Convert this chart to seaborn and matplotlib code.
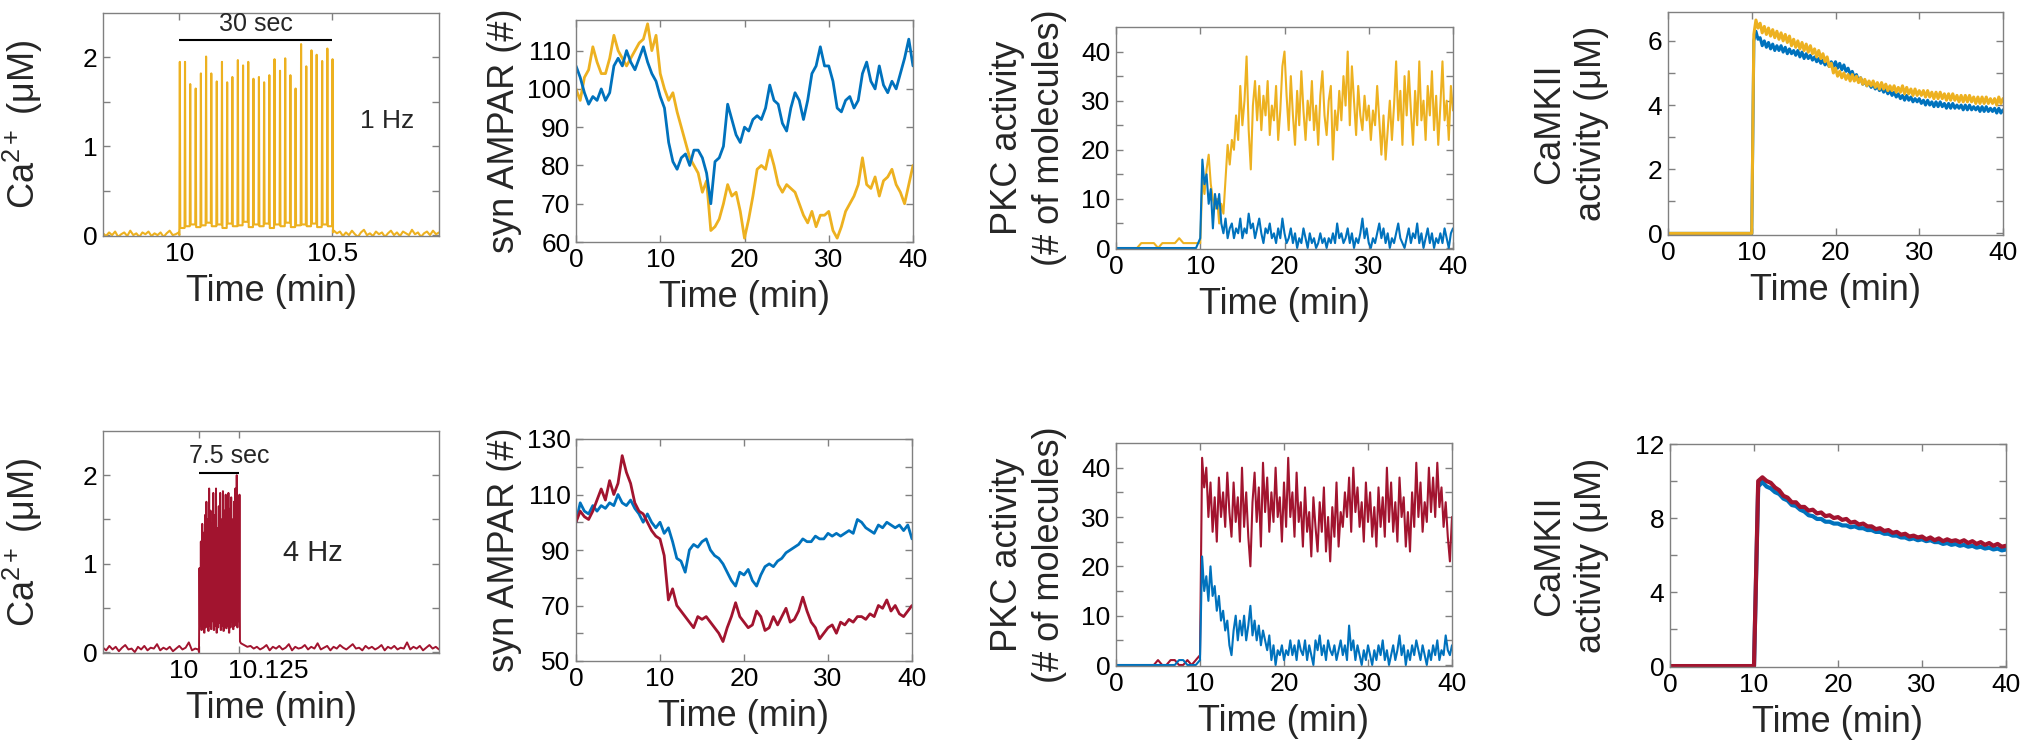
import numpy as np
import matplotlib
matplotlib.use("Agg")
import matplotlib.pyplot as plt
import matplotlib.transforms as mtransforms
import seaborn as sns

W, H = 2027, 750
ORANGE = "#EDB120"
BLUE = "#0072BD"
RED = "#A2142F"
GREY = "#808080"

# ---------------- Ca2+ traces (spike trains) ----------------
# 1 Hz train, 30 pulses between 10 and 10.5 min
CA1_TIMES = [10.000, 10.017, 10.034, 10.052, 10.069, 10.086, 10.103, 10.121, 10.138, 10.155,
             10.172, 10.190, 10.207, 10.224, 10.241, 10.259, 10.276, 10.293, 10.310, 10.328,
             10.345, 10.362, 10.379, 10.397, 10.414, 10.431, 10.448, 10.466, 10.483, 10.500]
CA1_PEAKS = [1.95, 1.95, 1.70, 1.65, 1.82, 2.01, 1.82, 1.73, 1.95, 1.72,
             1.78, 1.97, 1.91, 1.95, 1.76, 1.78, 1.72, 1.80, 1.98, 1.85,
             1.99, 1.80, 1.65, 2.15, 1.90, 2.08, 2.03, 1.96, 2.10, 1.98]
CA1_TROUGHS = [0.0, 0.08, 0.10, 0.12, 0.09, 0.11, 0.14, 0.10, 0.12, 0.08, 0.13,
               0.10, 0.11, 0.15, 0.09, 0.12, 0.10, 0.13, 0.08, 0.12, 0.10,
               0.14, 0.09, 0.11, 0.12, 0.10, 0.13, 0.09, 0.12, 0.10, 0.03]
CA1_PRE = [0.02, -0.01, 0.03, 0.0, 0.04, -0.02, 0.01, 0.03, -0.01, 0.05, 0.0, 0.02, -0.02,
           0.03, 0.01, 0.04, -0.01, 0.02, 0.0, 0.03, -0.02, 0.02, 0.05, 0.0, 0.01, 0.03]
CA1_POST = [0.05, 0.02, 0.04, -0.01, 0.03, 0.0, 0.05, 0.01, -0.02, 0.03, 0.06, 0.0,
            0.02, -0.01, 0.04, 0.01, 0.03, -0.02, 0.02, 0.05, 0.0, 0.03, -0.01, 0.04,
            0.02, 0.0, 0.06, 0.01, 0.03, -0.02, 0.02, 0.04, 0.0, 0.05, 0.01, 0.03]

# 4 Hz train, 30 pulses between 10 and 10.125 min
CA4_TIMES = [10.0000, 10.0043, 10.0086, 10.0129, 10.0172, 10.0216, 10.0259, 10.0302, 10.0345, 10.0388,
             10.0431, 10.0474, 10.0517, 10.0560, 10.0603, 10.0647, 10.0690, 10.0733, 10.0776, 10.0819,
             10.0862, 10.0905, 10.0948, 10.0991, 10.1034, 10.1078, 10.1121, 10.1164, 10.1207, 10.1250]
CA4_PEAKS = [0.95, 1.25, 1.45, 1.35, 1.55, 1.70, 1.50, 1.85, 1.60, 1.45,
             1.80, 1.55, 1.85, 1.40, 1.65, 1.80, 1.50, 1.82, 1.60, 1.78,
             1.45, 1.80, 1.62, 1.75, 1.50, 1.70, 1.85, 2.00, 1.60, 1.78]
CA4_TROUGHS = [0.0, 0.30, 0.25, 0.30, 0.22, 0.28, 0.32, 0.24, 0.30, 0.26, 0.35,
               0.25, 0.30, 0.22, 0.28, 0.33, 0.25, 0.30, 0.24, 0.32, 0.27,
               0.30, 0.22, 0.28, 0.34, 0.26, 0.30, 0.33, 0.28, 0.35, 0.12]
CA4_PRE = [0.05, 0.02, 0.07, 0.03, 0.06, 0.01, 0.05, 0.08, 0.03, 0.04, 0.0, 0.06, 0.03,
           0.07, 0.02, 0.05, 0.04, 0.09, 0.02, 0.05, 0.03, 0.06, 0.01, 0.04, 0.07, 0.03,
           0.05, 0.11, 0.02, 0.04, 0.03]
CA4_POST = [0.10, 0.08, 0.06, 0.07, 0.04, 0.06, 0.03, 0.05, 0.08, 0.02, 0.06, 0.04, 0.07,
            0.03, 0.05, 0.09, 0.02, 0.06, 0.04, 0.05, 0.08, 0.03, 0.06, 0.04, 0.10, 0.03,
            0.05, 0.07, 0.02, 0.06, 0.04, 0.08, 0.05, 0.03, 0.06, 0.09, 0.04, 0.05, 0.02,
            0.07, 0.04, 0.06, 0.03, 0.05, 0.08, 0.02, 0.06, 0.04, 0.07, 0.03, 0.05, 0.04,
            0.11, 0.03, 0.06, 0.04, 0.07, 0.02, 0.05, 0.08, 0.04, 0.06, 0.03]

# ---------------- syn AMPAR (#), sampled every 0.5 min, 0-40 min ----------------
AMPAR_1HZ = [100, 97, 103, 105, 111, 107, 104, 104, 108, 114, 110, 108, 106, 108, 110, 112,
             113, 117, 110, 114, 104, 100, 97, 99, 94, 90, 86, 82, 80, 78, 73, 76,
             63, 64, 66, 70, 75, 72, 73, 68, 61, 66, 72, 79, 80, 79, 84, 80,
             75, 73, 75, 74, 73, 70, 67, 65, 68, 64, 67, 67, 68, 63, 61, 64,
             68, 70, 72, 75, 82, 75, 74, 77, 72, 76, 77, 79, 75, 73, 70, 75, 80]
AMPAR_1HZ_CTRL = [106, 103, 99, 96, 98, 97, 100, 97, 99, 106, 108, 106, 110, 107, 105, 108,
                  111, 107, 104, 102, 98, 95, 86, 81, 79, 82, 83, 80, 84, 84, 82, 78,
                  70, 81, 82, 85, 96, 92, 88, 86, 90, 89, 92, 93, 92, 95, 101, 97,
                  96, 91, 89, 95, 99, 97, 92, 97, 104, 106, 111, 106, 106, 102, 95, 94,
                  97, 98, 95, 97, 104, 107, 102, 100, 106, 101, 99, 102, 100, 104, 108, 113, 106]
AMPAR_4HZ = [100, 104, 102, 101, 104, 108, 112, 108, 115, 110, 114, 124, 118, 114, 107, 104,
             103, 100, 97, 95, 94, 88, 72, 76, 70, 68, 66, 64, 62, 66, 65, 66,
             64, 62, 60, 57, 62, 66, 71, 66, 64, 62, 63, 68, 66, 61, 62, 66,
             63, 66, 69, 64, 65, 68, 73, 68, 64, 62, 58, 60, 62, 63, 60, 64,
             63, 65, 64, 66, 66, 65, 67, 66, 70, 69, 72, 68, 70, 67, 66, 68, 70]
AMPAR_4HZ_CTRL = [100, 107, 104, 103, 106, 104, 106, 105, 107, 106, 110, 107, 106, 108, 105, 103,
                  100, 103, 100, 98, 100, 96, 98, 93, 87, 86, 82, 90, 92, 91, 93, 94,
                  90, 88, 87, 85, 82, 79, 77, 82, 81, 83, 79, 77, 81, 84, 85, 84,
                  86, 87, 89, 90, 91, 92, 94, 93, 93, 95, 94, 94, 96, 95, 96, 95,
                  96, 97, 96, 101, 100, 98, 97, 96, 99, 98, 100, 99, 98, 99, 97, 99, 94]

# ---------------- PKC activity (# of molecules) ----------------
# before stimulation: every 0.5 min, 0-9.5 min
PKC_1HZ_PRE = [0, 0, 0, 0, 0, 0, 1, 1, 1, 1, 0, 1, 1, 1, 1, 2, 1, 1, 1, 1]
PKC_1HZ_CTRL_PRE = [0] * 20
PKC_4HZ_PRE = [0, 0, 0, 0, 0, 0, 0, 0, 0, 0, 1, 0, 0, 1, 1, 0, 0, 1, 0, 1]
PKC_4HZ_CTRL_PRE = [0, 0, 0, 0, 0, 0, 0, 0, 0, 0, 0, 0, 0, 0, 0, 1, 1, 0, 0, 0]
# after stimulation onset: every 0.25 min, 10-40 min
PKC_1HZ = [1, 14, 11, 16, 19, 13, 10, 8,
           10, 5, 9, 7, 14, 21, 17, 22,
           20, 27, 22, 33, 25, 30, 39, 24,
           16, 29, 34, 26, 33, 24, 31, 27,
           34, 23, 29, 26, 33, 22, 28, 37,
           40, 31, 24, 35, 27, 21, 32, 25,
           36, 28, 22, 30, 26, 34, 24, 29,
           21, 31, 36, 27, 23, 30, 33, 18,
           28, 24, 32, 26, 35, 29, 40, 25,
           37, 30, 23, 33, 27, 24, 31, 26,
           29, 22, 28, 25, 33, 26, 19, 27,
           18, 24, 30, 22, 29, 38, 26, 32,
           21, 35, 27, 36, 28, 21, 32, 25,
           38, 26, 30, 22, 33, 27, 36, 24,
           31, 21, 29, 38, 26, 30, 22, 33,
           28]
PKC_1HZ_CTRL = [2, 18, 13, 15, 9, 12, 4, 11,
                8, 11, 5, 3, 6, 2, 4, 5,
                2, 4, 3, 6, 2, 4, 3, 7,
                4, 5, 2, 4, 6, 3, 1, 4,
                3, 5, 2, 3, 1, 4, 2, 6,
                3, 1, 2, 4, 1, 3, 0, 2,
                1, 4, 2, 0, 3, 1, 2, 0,
                1, 3, 1, 2, 0, 2, 1, 3,
                1, 5, 2, 3, 1, 2, 4, 1,
                3, 0, 2, 1, 3, 6, 2, 4,
                1, 0, 2, 1, 3, 5, 2, 4,
                1, 3, 0, 2, 1, 3, 5, 2,
                1, 0, 2, 4, 1, 3, 2, 5,
                1, 3, 0, 2, 4, 1, 3, 0,
                2, 1, 3, 1, 4, 2, 0, 3,
                4]
PKC_4HZ = [2, 42, 36, 40, 30, 37, 27, 34,
           25, 38, 30, 35, 28, 39, 31, 26,
           37, 29, 34, 25, 40, 28, 35, 26,
           20, 33, 39, 29, 36, 24, 41, 31,
           38, 27, 35, 29, 40, 30, 34, 25,
           37, 28, 42, 30, 35, 26, 39, 29,
           33, 24, 36, 27, 31, 22, 34, 28,
           23, 33, 27, 36, 23, 30, 21, 32,
           26, 37, 24, 31, 28, 35, 30, 38,
           27, 40, 31, 36, 28, 33, 25, 37,
           29, 35, 26, 32, 24, 36, 28, 34,
           26, 40, 29, 37, 27, 33, 25, 38,
           30, 34, 24, 31, 23, 35, 28, 41,
           30, 37, 27, 33, 29, 40, 31, 38,
           30, 41, 32, 36, 28, 33, 26, 21,
           30]
PKC_4HZ_CTRL = [1, 22, 15, 18, 13, 20, 14, 16,
                11, 14, 9, 11, 7, 9, 4, 2,
                7, 10, 5, 9, 6, 10, 5, 8,
                12, 6, 9, 5, 8, 4, 7, 5,
                3, 6, 1, 4, 0, 3, 2, 4,
                1, 3, 2, 5, 2, 4, 1, 5,
                3, 2, 5, 1, 4, 2, 0, 5,
                3, 6, 2, 4, 1, 5, 3, 2,
                4, 1, 3, 5, 2, 4, 1, 8,
                3, 5, 1, 4, 2, 0, 3, 1,
                4, 2, 0, 3, 1, 4, 2, 5,
                1, 3, 0, 2, 4, 1, 3, 6,
                2, 4, 0, 3, 1, 4, 2, 5,
                3, 1, 4, 2, 0, 3, 1, 4,
                2, 5, 1, 3, 2, 6, 3, 2,
                4]

# ---------------- CaMKII activity (uM) ----------------
CAMKII_PRE = [0.0, 0.0]  # 0 and 9.9 min
# 1 Hz panel: every 0.25 min, 10-40 min
CAMKII_1HZ = [0.0, 6.2, 6.65, 6.4, 6.55, 6.25, 6.45, 6.2,
              6.4, 6.15, 6.35, 6.1, 6.3, 6.05, 6.25, 6.0,
              6.2, 5.95, 6.15, 5.85, 6.05, 5.8, 6.0, 5.75,
              5.95, 5.7, 5.9, 5.65, 5.85, 5.6, 5.75, 5.5,
              5.7, 5.45, 5.6, 5.35, 5.5, 5.2, 5.3, 5.0,
              5.15, 4.9, 5.05, 4.85, 5.0, 4.8, 4.95, 4.75,
              4.95, 4.75, 4.9, 4.7, 4.85, 4.65, 4.8, 4.6,
              4.75, 4.6, 4.75, 4.55, 4.7, 4.5, 4.7, 4.5,
              4.65, 4.45, 4.6, 4.45, 4.6, 4.4, 4.55, 4.4,
              4.6, 4.35, 4.55, 4.35, 4.5, 4.3, 4.5, 4.3,
              4.45, 4.3, 4.45, 4.25, 4.45, 4.25, 4.4, 4.2,
              4.4, 4.2, 4.4, 4.2, 4.35, 4.15, 4.35, 4.15,
              4.35, 4.15, 4.3, 4.1, 4.3, 4.1, 4.3, 4.1,
              4.3, 4.1, 4.25, 4.05, 4.25, 4.05, 4.25, 4.05,
              4.25, 4.05, 4.2, 4.05, 4.2, 4.0, 4.25, 4.05,
              4.2]
CAMKII_1HZ_CTRL = [0.0, 6.0, 6.3, 6.05, 6.1, 5.85, 6.0, 5.8,
                   5.95, 5.75, 5.9, 5.7, 5.85, 5.7, 5.85, 5.65,
                   5.8, 5.6, 5.75, 5.6, 5.7, 5.55, 5.7, 5.5,
                   5.65, 5.45, 5.6, 5.45, 5.55, 5.4, 5.5, 5.35,
                   5.45, 5.3, 5.4, 5.25, 5.35, 5.2, 5.35, 5.2,
                   5.35, 5.15, 5.3, 5.1, 5.25, 5.05, 5.15, 4.95,
                   5.05, 4.85, 4.95, 4.75, 4.85, 4.65, 4.75, 4.6,
                   4.7, 4.55, 4.65, 4.5, 4.6, 4.45, 4.55, 4.4,
                   4.5, 4.35, 4.45, 4.3, 4.4, 4.25, 4.35, 4.2,
                   4.3, 4.15, 4.3, 4.15, 4.25, 4.1, 4.2, 4.1,
                   4.2, 4.05, 4.15, 4.0, 4.15, 4.0, 4.1, 3.95,
                   4.1, 3.95, 4.1, 3.95, 4.05, 3.9, 4.05, 3.9,
                   4.05, 3.9, 4.0, 3.9, 4.0, 3.85, 4.0, 3.85,
                   4.0, 3.85, 3.95, 3.85, 3.95, 3.8, 3.95, 3.8,
                   3.95, 3.8, 3.9, 3.8, 3.9, 3.75, 3.9, 3.75,
                   3.85]
# 4 Hz panel: every 0.5 min, 10-40 min
CAMKII_4HZ = [0.0, 10.0, 10.2, 10.0, 9.9, 9.65, 9.5, 9.2, 9.1, 8.85, 8.85, 8.6, 8.6, 8.4,
              8.45, 8.25, 8.3, 8.1, 8.15, 8.0, 8.05, 7.9, 7.95, 7.75, 7.8, 7.65, 7.7, 7.55,
              7.55, 7.4, 7.45, 7.3, 7.35, 7.2, 7.25, 7.1, 7.15, 7.0, 7.05, 6.95, 7.0, 6.85,
              6.95, 6.8, 6.9, 6.75, 6.85, 6.75, 6.8, 6.7, 6.8, 6.65, 6.75, 6.6, 6.7, 6.55,
              6.65, 6.5, 6.6, 6.45, 6.5]
CAMKII_4HZ_CTRL = [0.0, 9.7, 9.95, 9.7, 9.6, 9.4, 9.3, 9.05, 8.95, 8.7, 8.65, 8.45, 8.35, 8.15,
                   8.1, 7.95, 7.95, 7.8, 7.8, 7.7, 7.7, 7.6, 7.6, 7.5, 7.55, 7.45, 7.45, 7.35,
                   7.35, 7.25, 7.25, 7.15, 7.15, 7.05, 7.05, 6.95, 6.95, 6.85, 6.9, 6.8, 6.85,
                   6.75, 6.8, 6.7, 6.7, 6.6, 6.65, 6.55, 6.6, 6.5, 6.55, 6.45, 6.5, 6.4, 6.45,
                   6.35, 6.4, 6.3, 6.35, 6.25, 6.3]

STIM_1HZ = (10.0, 10.5)
STIM_4HZ = (10.0, 10.125)

sns.set_style("ticks")
plt.rcParams["font.family"] = ["Liberation Sans", "DejaVu Sans"]
plt.rcParams["mathtext.fontset"] = "custom"
plt.rcParams["mathtext.rm"] = "Liberation Sans"
plt.rcParams["mathtext.it"] = "Liberation Sans:italic"

fig = plt.figure(figsize=(W / 100, H / 100), dpi=100)


def add_panel(left, top, width, height):
    return fig.add_axes([left / W, 1 - (top + height) / H, width / W, height / H])


def spike_trace(pre, pre_span, times, peaks, troughs, post, post_span, rise, fall):
    x = list(np.linspace(pre_span[0], pre_span[1], len(pre)))
    y = list(pre)
    for i, t in enumerate(times):
        x += [t, t + rise, t + fall]
        y += [troughs[i], peaks[i], troughs[i + 1]]
    x += list(np.linspace(post_span[0], post_span[1], len(post)))
    y += list(post)
    return np.array(x), np.array(y)


def line(ax, x, y, color, lw):
    sns.lineplot(x=x, y=y, ax=ax, color=color, linewidth=lw,
                 estimator=None, sort=False, legend=False)


def style(ax, xlim, ylim, xticks, xlabels, yticks, ylabels, ylabel, ylab_px, w):
    ax.set_xlim(*xlim)
    ax.set_ylim(*ylim)
    ax.set_xticks(xticks)
    ax.set_xticklabels(xlabels)
    ax.set_yticks(yticks)
    ax.set_yticklabels(ylabels)
    ax.tick_params(direction="in", top=True, right=True, length=5, width=1,
                   color=GREY, labelcolor="black", labelsize=19, pad=4)
    for s in ax.spines.values():
        s.set_visible(True)
        s.set_color(GREY)
        s.set_linewidth(1)
    ax.set_xlabel("Time (min)", fontsize=26)
    ax.xaxis.set_label_coords(0.5, -0.17)
    ax.set_ylabel(ylabel, fontsize=26, linespacing=1.25)
    ax.yaxis.set_label_coords(ylab_px / w, 0.5)


t40 = [0, 10, 20, 30, 40]
t40_lab = ["0", "10", "20", "30", "40"]
ca_y = [0, 0.5, 1, 1.5, 2]
ca_lab = ["0", "", "1", "", "2"]
CA_LABEL = "Ca$^{2+}$ (μM)"
AMPAR_LABEL = "syn AMPAR (#)"
PKC_LABEL = "PKC activity\n(# of molecules)"
CAMKII_LABEL = "CaMKII\nactivity (μM)"

t_half = np.linspace(0, 40, len(AMPAR_1HZ))

# ---------- top row: 1 Hz ----------
ax = add_panel(103, 13, 336, 223)
x, y = spike_trace(CA1_PRE, (9.75, 9.998), CA1_TIMES, CA1_PEAKS, CA1_TROUGHS,
                   CA1_POST, (10.506, 10.85), 0.0015, 0.003)
line(ax, x, y, ORANGE, 1.5)
ax.hlines(2.2, *STIM_1HZ, color="black", lw=1.5)
ax.text(np.mean(STIM_1HZ), 2.24, "30 sec", ha="center", va="bottom", fontsize=18)
ax.text(10.68, 1.28, "1 Hz", ha="center", va="center", fontsize=19)
style(ax, (9.75, 10.85), (-0.01, 2.5), [10, 10.5], ["10", "10.5"], ca_y, ca_lab,
      CA_LABEL, 45 - 103, 336)

ax = add_panel(576, 20, 337, 222)
line(ax, t_half, AMPAR_1HZ, ORANGE, 2.0)
line(ax, t_half, AMPAR_1HZ_CTRL, BLUE, 2.0)
style(ax, (0, 40), (60, 118), t40, t40_lab, [60, 70, 80, 90, 100, 110],
      ["60", "70", "80", "90", "100", "110"], AMPAR_LABEL, 522 - 576, 337)

ax = add_panel(1116, 27, 337, 222)
t_pre = np.linspace(0, 9.5, len(PKC_1HZ_PRE))
t_q = np.linspace(10, 40, len(PKC_1HZ))
line(ax, np.r_[t_pre, t_q], np.r_[PKC_1HZ_PRE, PKC_1HZ], ORANGE, 1.5)
line(ax, np.r_[t_pre, t_q], np.r_[PKC_1HZ_CTRL_PRE, PKC_1HZ_CTRL], BLUE, 1.5)
style(ax, (0, 40), (-0.2, 45), t40, t40_lab, list(range(0, 45, 5)),
      ["0", "", "10", "", "20", "", "30", "", "40"], PKC_LABEL, 1067 - 1116, 337)

ax = add_panel(1668, 12, 335, 223)
t_c = np.r_[np.linspace(0, 9.9, 2), np.linspace(10, 40, len(CAMKII_1HZ))]
line(ax, t_c, np.r_[CAMKII_PRE, CAMKII_1HZ_CTRL], BLUE, 2.2)
line(ax, t_c, np.r_[CAMKII_PRE, CAMKII_1HZ], ORANGE, 2.2)
style(ax, (0, 40), (-0.05, 6.9), t40, t40_lab, list(range(0, 7)),
      ["0", "", "2", "", "4", "", "6"], CAMKII_LABEL, 1609 - 1668, 335)

# ---------- bottom row: 4 Hz ----------
ax = add_panel(103, 431, 336, 222)
x, y = spike_trace(CA4_PRE, (9.70, 9.998), CA4_TIMES, CA4_PEAKS, CA4_TROUGHS,
                   CA4_POST, (10.131, 10.75), 0.0015, 0.003)
line(ax, x, y, RED, 1.4)
ax.hlines(2.03, *STIM_4HZ, color="black", lw=1.5)
ax.text(10.094, 2.08, "7.5 sec", ha="center", va="bottom", fontsize=18)
ax.text(10.356, 1.12, "4 Hz", ha="center", va="center", fontsize=21)
style(ax, (9.70, 10.75), (-0.01, 2.5), [10, 10.125], ["10", "10.125"], ca_y, ca_lab,
      CA_LABEL, 45 - 103, 336)
for lab, dx in zip(ax.get_xticklabels(), [-15, 29]):
    lab.set_transform(lab.get_transform() +
                      mtransforms.ScaledTranslation(dx / 100, 0, fig.dpi_scale_trans))

ax = add_panel(576, 439, 336, 222)
line(ax, t_half, AMPAR_4HZ_CTRL, BLUE, 2.0)
line(ax, t_half, AMPAR_4HZ, RED, 2.0)
style(ax, (0, 40), (50, 130), t40, t40_lab, list(range(50, 131, 10)),
      ["50", "", "70", "", "90", "", "110", "", "130"], AMPAR_LABEL, 522 - 576, 336)

ax = add_panel(1116, 443, 336, 223)
line(ax, np.r_[t_pre, t_q], np.r_[PKC_4HZ_PRE, PKC_4HZ], RED, 1.5)
line(ax, np.r_[t_pre, t_q], np.r_[PKC_4HZ_CTRL_PRE, PKC_4HZ_CTRL], BLUE, 1.5)
style(ax, (0, 40), (-0.2, 45), t40, t40_lab, list(range(0, 45, 5)),
      ["0", "", "10", "", "20", "", "30", "", "40"], PKC_LABEL, 1067 - 1116, 336)

ax = add_panel(1670, 444, 336, 223)
t_c4 = np.r_[np.linspace(0, 9.9, 2), np.linspace(10, 40, len(CAMKII_4HZ))]
line(ax, t_c4, np.r_[CAMKII_PRE, CAMKII_4HZ_CTRL], BLUE, 3.0)
line(ax, t_c4, np.r_[CAMKII_PRE, CAMKII_4HZ], RED, 3.0)
style(ax, (0, 40), (-0.05, 12), t40, t40_lab, list(range(0, 13, 2)),
      ["0", "", "4", "", "8", "", "12"], CAMKII_LABEL, 1609 - 1670, 336)

fig.savefig("out.png", dpi=100)
